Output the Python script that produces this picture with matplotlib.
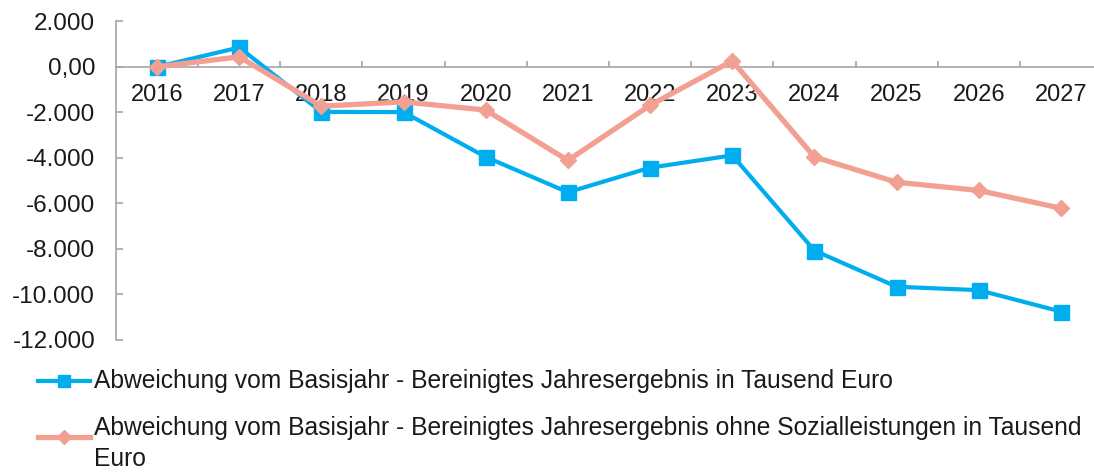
import matplotlib
matplotlib.use("Agg")
import matplotlib.pyplot as plt
from matplotlib.lines import Line2D
from matplotlib.ticker import FixedLocator, FixedFormatter

years = ["2016", "2017", "2018", "2019", "2020", "2021", "2022", "2023",
         "2024", "2025", "2026", "2027"]
bereinigt = [0, 850, -1980, -1990, -3960, -5510, -4430, -3890,
             -8070, -9660, -9810, -10750]
ohne_sozial = [0, 440, -1730, -1540, -1900, -4110, -1690, 260,
               -3960, -5070, -5430, -6210]
y_ticks = [2000, 0, -2000, -4000, -6000, -8000, -10000, -12000]
y_tick_labels = ["2.000", "0,00", "-2.000", "-4.000", "-6.000", "-8.000",
                 "-10.000", "-12.000"]
label_blue = "Abweichung vom Basisjahr - Bereinigtes Jahresergebnis in Tausend Euro"
label_orange = ("Abweichung vom Basisjahr - Bereinigtes Jahresergebnis ohne "
                "Sozialleistungen in Tausend\nEuro")

BLUE = "#00AEEF"
ORANGE = "#F2A092"
AXCOL = "#A6A6A6"
plt.rcParams["font.family"] = ["Liberation Sans", "DejaVu Sans"]

W, H = 1094, 472
fig = plt.figure(figsize=(W / 100, H / 100), dpi=100)
ax = fig.add_axes([116 / W, 1 - 340 / H, 986 / W, (340 - 21.3) / H])

x = list(range(len(years)))
ax.plot(x, bereinigt, color=BLUE, lw=3, marker="s", ms=10.8,
        zorder=3, clip_on=False)
ax.plot(x, ohne_sozial, color=ORANGE, lw=3.8, marker="D", ms=8.5,
        zorder=4, clip_on=False)

ax.set_xlim(-0.5, len(years) - 0.5)
ax.set_ylim(-12000, 2000)

for s in ["top", "right"]:
    ax.spines[s].set_visible(False)
ax.spines["bottom"].set_position(("data", 0))
for s in ["bottom", "left"]:
    ax.spines[s].set_color(AXCOL)
    ax.spines[s].set_linewidth(1.2)

ax.yaxis.set_major_locator(FixedLocator(y_ticks))
ax.yaxis.set_major_formatter(FixedFormatter(y_tick_labels))
ax.tick_params(axis="y", direction="in", length=5, width=1.2, color=AXCOL,
               pad=15, labelsize=17.5, labelcolor="#1a1a1a")

ax.set_xticks(x)
ax.set_xticklabels(years)
ax.set_xticks([i + 0.5 for i in x[:-1]], minor=True)
ax.tick_params(axis="x", which="major", length=0, pad=12.5, labelsize=17,
               labelcolor="#1a1a1a")
ax.tick_params(axis="x", which="minor", direction="in", length=4.5,
               width=1.2, color=AXCOL)

# Legend drawn manually
def fy(py):
    return 1 - py / H

def fx(px):
    return px / W

fig.add_artist(Line2D([fx(38), fx(64), fx(90)], [fy(381)] * 3,
                      color=BLUE, lw=3, marker="s", ms=9, markevery=[1],
                      transform=fig.transFigure))
fig.add_artist(Line2D([fx(38), fx(64), fx(90)], [fy(437)] * 3,
                      color=ORANGE, lw=3.8, marker="D", ms=7, markevery=[1],
                      transform=fig.transFigure))
fig.text(fx(94), fy(388), label_blue, fontsize=17.7, color="#1a1a1a",
         ha="left", va="baseline")
fig.text(fx(94), fy(466), label_orange, fontsize=17.7, color="#1a1a1a",
         ha="left", va="baseline", linespacing=1.35)

fig.savefig("out.png", dpi=100)
